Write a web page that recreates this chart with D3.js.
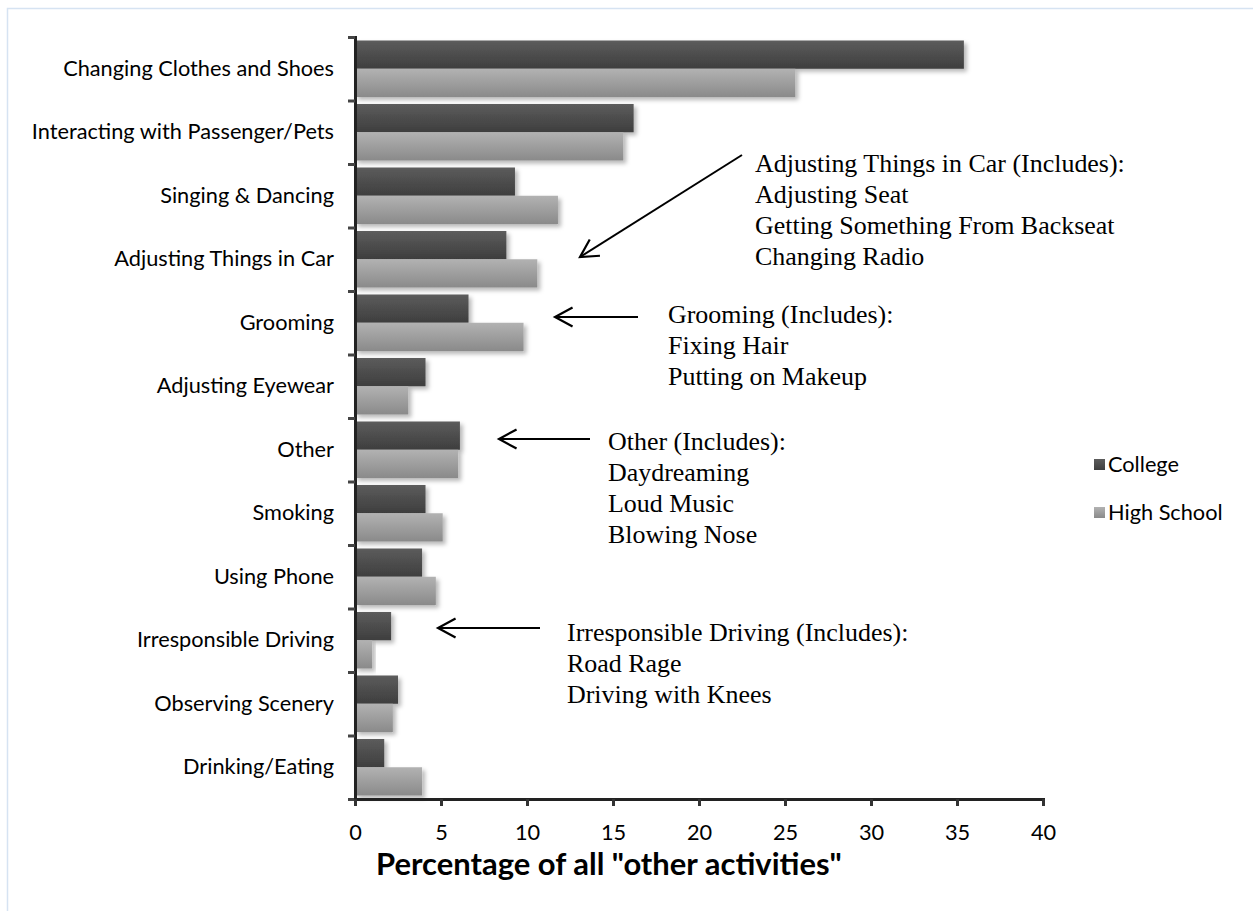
<!DOCTYPE html>
<html>
<head>
<meta charset="utf-8">
<script src="https://cdn.jsdelivr.net/npm/d3@7"></script>
<style>
  body { margin: 0; background: #fff; }
  svg { display: block; }
  .lbl { font-family: Lato, "Open Sans", sans-serif; fill: #000; }
  .note { font-family: "Liberation Serif", "Times New Roman", serif; fill: #000; }
</style>
</head>
<body>
<div id="chart"></div>
<script>
(function () {

  // Data
  const categories = ["Changing Clothes and Shoes", "Interacting with Passenger/Pets", "Singing & Dancing",
    "Adjusting Things in Car", "Grooming", "Adjusting Eyewear", "Other", "Smoking", "Using Phone",
    "Irresponsible Driving", "Observing Scenery", "Drinking/Eating"]
  const series = ["College", "High School"]
  const college = [35.4, 16.2, 9.3, 8.8, 6.6, 4.1, 6.1, 4.1, 3.9, 2.1, 2.5, 1.7]
  const highSchool = [25.6, 15.6, 11.8, 10.6, 9.8, 3.1, 6.0, 5.1, 4.7, 1.0, 2.2, 3.9]
  const xTicks = [0, 5, 10, 15, 20, 25, 30, 35, 40]
  const xTitle = 'Percentage of all "other activities"'

  // Annotation notes: lines of text
  const notes = [
    ["Adjusting Things in Car (Includes):", "Adjusting Seat", "Getting Something From Backseat", "Changing Radio"],
    ["Grooming (Includes):", "Fixing Hair", "Putting on Makeup"],
    ["Other (Includes):", "Daydreaming", "Loud Music", "Blowing Nose"],
    ["Irresponsible Driving (Includes):", "Road Rage", "Driving with Knees"]
  ]

  const rows = categories.map((c, i) => ({ cat: c, values: [college[i], highSchool[i]] }))

  const W = 1253, H = 911
  const svg = d3.select("#chart").append("svg").attr("width", W).attr("height", H)

  // pick a font size so a sample string takes the width seen in the reference
  function fitSize(cls, weight, str, target) {
    const t = svg.append("text").attr("class", cls).attr("font-weight", weight).attr("font-size", 20).text(str)
    const w = t.node().getComputedTextLength()
    t.remove()
    return 20 * target / w
  }
  const lblSize = fitSize("lbl", "normal", categories[0], 271)
  const titleSize = fitSize("lbl", "bold", xTitle, 466)
  const noteSize = fitSize("note", "normal", notes[0][0], 370)

  const defs = svg.append("defs")
  const grads = [["gCol", "#5c5c5c", "#3e3e3e"], ["gHs", "#b2b2b2", "#8a8a8a"]]
  grads.forEach(g => {
    const lg = defs.append("linearGradient").attr("id", g[0]).attr("x1", 0).attr("y1", 0).attr("x2", 0).attr("y2", 1)
    lg.append("stop").attr("offset", "0%").attr("stop-color", g[1])
    lg.append("stop").attr("offset", "100%").attr("stop-color", g[2])
  })
  const f = defs.append("filter").attr("id", "shadow").attr("x", "-10%").attr("y", "-20%").attr("width", "130%").attr("height", "160%")
  f.append("feDropShadow").attr("dx", 3).attr("dy", 3).attr("stdDeviation", 2.2)
    .attr("flood-color", "#000").attr("flood-opacity", 0.28)

  // Outer frame
  svg.append("rect").attr("x", 7.5).attr("y", 8.5).attr("width", W + 20).attr("height", H + 20)
    .attr("fill", "none").attr("stroke", "#d6e3f2").attr("stroke-width", 1.5)

  // Scales
  const x = d3.scaleLinear().domain([0, 40]).range([355, 1043])
  const y = d3.scaleBand().domain(categories).range([37, 799]).paddingInner(0.11).paddingOuter(0.055)
  const ySub = d3.scaleBand().domain(series).range([0, y.bandwidth()])
  const yEdge = d3.scaleLinear().domain([0, categories.length]).range([37, 799])
  const fills = d3.scaleOrdinal().domain(series).range(["url(#gCol)", "url(#gHs)"])

  // Bars
  const grp = svg.append("g").selectAll("g").data(rows).join("g")
    .attr("transform", d => `translate(0,${y(d.cat)})`)
  grp.selectAll("rect").data(d => d.values.map((v, i) => ({ s: series[i], v })))
    .join("rect")
    .attr("x", x(0))
    .attr("y", d => ySub(d.s))
    .attr("width", d => x(d.v) - x(0))
    .attr("height", ySub.bandwidth())
    .attr("fill", d => fills(d.s))
    .attr("filter", "url(#shadow)")

  // Y axis: boundary ticks
  const yAx = svg.append("g").attr("transform", `translate(${x(0)},0)`)
    .call(d3.axisLeft(yEdge).tickValues(d3.range(categories.length + 1)).tickSize(7).tickFormat(""))
  yAx.select(".domain").attr("stroke", "#222").attr("stroke-width", 3)
  yAx.selectAll(".tick line").attr("stroke", "#444").attr("stroke-width", 3)

  // Category labels
  const yLab = svg.append("g").attr("transform", `translate(${x(0)},0)`)
    .call(d3.axisLeft(y).tickSize(0).tickPadding(21))
  yLab.select(".domain").remove()
  yLab.selectAll("text").attr("class", "lbl").attr("font-family", null).attr("font-size", lblSize)

  // X axis
  const xAx = svg.append("g").attr("transform", `translate(0,${yEdge(categories.length)})`)
    .call(d3.axisBottom(x).tickValues(xTicks).tickSize(7).tickPadding(19))
  xAx.select(".domain").attr("stroke", "#222").attr("stroke-width", 3)
  xAx.selectAll(".tick line").attr("stroke", "#333").attr("stroke-width", 3)
  xAx.selectAll("text").attr("class", "lbl").attr("font-family", null).attr("font-size", lblSize)

  svg.append("text").attr("class", "lbl").attr("x", 376).attr("y", 875)
    .attr("font-weight", "bold").attr("font-size", titleSize).text(xTitle)

  // Legend
  const leg = svg.append("g").selectAll("g").data(series).join("g")
    .attr("transform", (d, i) => `translate(1094,${464 + i * 48})`)
  leg.append("rect").attr("x", 0).attr("y", -5).attr("width", 11).attr("height", 11).attr("fill", d => fills(d))
  leg.append("text").attr("class", "lbl").attr("font-size", lblSize).attr("x", 14).attr("dy", "0.35em").text(d => d)

  // Annotations
  const noteTextX = [755, 668, 608, 567]
  const noteTextY = [163, 314, 441, 632]
  const arrowFrom = [[742, 155], [638, 317], [590, 439], [540, 628]]
  const arrowTo = [[580, 257], [555, 317], [499, 439], [438, 628]]

  notes.forEach((lines, i) => {
    const t = svg.append("text").attr("class", "note").attr("font-size", noteSize)
      .attr("x", noteTextX[i]).attr("y", noteTextY[i])
    t.selectAll("tspan").data(lines).join("tspan")
      .attr("x", noteTextX[i]).attr("dy", (d, j) => j === 0 ? "0.35em" : 31).text(d => d)

    const [x1, y1] = arrowFrom[i], [x2, y2] = arrowTo[i]
    svg.append("line").attr("x1", x1).attr("y1", y1).attr("x2", x2).attr("y2", y2)
      .attr("stroke", "#000").attr("stroke-width", 2)
    const a = Math.atan2(y1 - y2, x1 - x2), L = 20, s = 0.5
    const p1 = [x2 + L * Math.cos(a + s), y2 + L * Math.sin(a + s)]
    const p2 = [x2 + L * Math.cos(a - s), y2 + L * Math.sin(a - s)]
    svg.append("path").attr("d", `M${p1}L${x2},${y2}L${p2}`)
      .attr("fill", "none").attr("stroke", "#000").attr("stroke-width", 2.2)
  })

})();
</script>
</body>
</html>
